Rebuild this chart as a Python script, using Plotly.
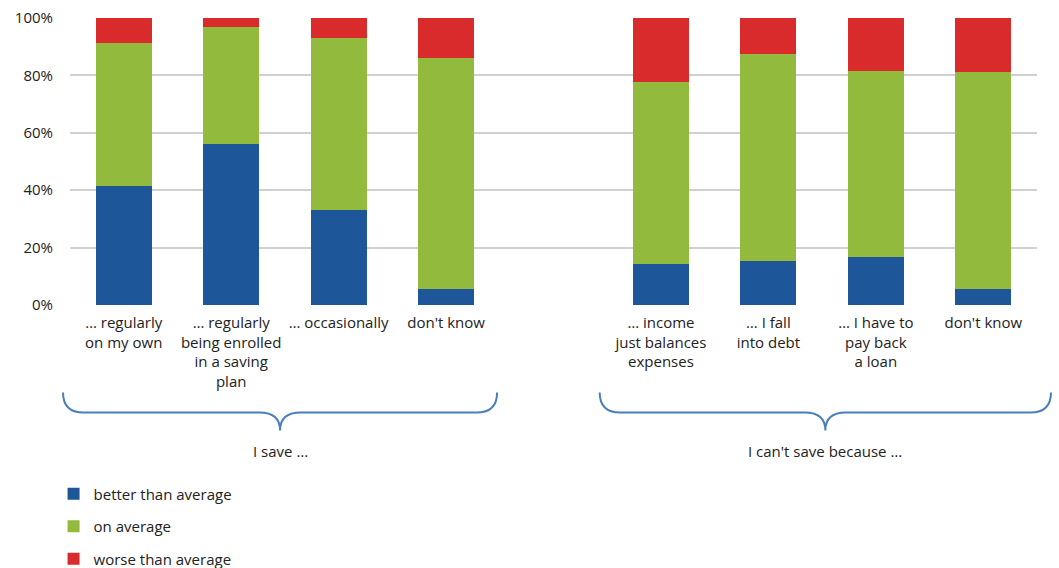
import plotly.graph_objects as go

# ---- data ----
positions = [0, 1, 2, 3, 5, 6, 7, 8]
categories = [
    "… regularly<br>on my own",
    "… regularly<br>being enrolled<br>in a saving<br>plan",
    "… occasionally",
    "don't know",
    "… income<br>just balances<br>expenses",
    "… I fall<br>into debt",
    "… I have to<br>pay back<br>a loan",
    "don't know",
]
better = [41.4, 56.1, 33.2, 5.6, 14.3, 15.4, 16.8, 5.6]
on_avg = [50.0, 40.9, 59.9, 80.3, 63.4, 71.9, 64.8, 75.7]
worse = [round(100 - b - o, 1) for b, o in zip(better, on_avg)]
series_names = ["better than average", "on average", "worse than average"]
series_colors = ["#1E5799", "#92BB3E", "#D92B2C"]
group_labels = ["I save …", "I can't save because …"]
group_spans = [(0, 3), (5, 8)]

FONT = "Open Sans"
FS = 15
fig = go.Figure()
for name, vals, col in zip(series_names, [better, on_avg, worse], series_colors):
    fig.add_trace(go.Bar(
        x=positions, y=vals, name=name, marker=dict(color=col, line=dict(width=0)),
        width=0.52, legendgroup=name,
    ))

# plot area in pixels
L, R, T, B = 70, 1037, 18, 304.7
H = B - T
XMIN, XMAX = -0.5, 8.5

def py(p):
    return (B - p) / H

def px(xd):
    return (xd - XMIN) / (XMAX - XMIN)

brace_pad = [(-0.565, 0.475), (-0.57, 0.63)]
shapes = []
annotations = []
for (a, b), lab, (pl, pr) in zip(group_spans, group_labels, brace_pad):
    x0, x1 = px(a + pl), px(b + pr)
    xm = (x0 + x1) / 2
    d = 0.19 / (XMAX - XMIN)
    ytop, ymid, ytip = py(392), py(412), py(430)
    path = (f"M {x0},{ytop} Q {x0},{ymid} {x0+d},{ymid} L {xm-d},{ymid} "
            f"Q {xm},{ymid} {xm},{ytip} Q {xm},{ymid} {xm+d},{ymid} "
            f"L {x1-d},{ymid} Q {x1},{ymid} {x1},{ytop}")
    shapes.append(dict(type="path", path=path, xref="paper", yref="paper",
                       line=dict(color="#4A7EBB", width=2)))
    annotations.append(dict(x=xm, y=py(451), xref="paper", yref="paper", text=lab,
                            showarrow=False, font=dict(family=FONT, size=FS, color="#222"),
                            xanchor="center", yanchor="middle"))

fig.update_layout(
    width=1059, height=568,
    margin=dict(l=L, r=1059 - R, t=T, b=568 - B, autoexpand=False),
    barmode="stack",
    plot_bgcolor="white", paper_bgcolor="white",
    font=dict(family=FONT, size=FS, color="#222"),
    xaxis=dict(range=[XMIN, XMAX], tickvals=positions, ticktext=categories,
               showgrid=False, zeroline=False, showline=False, ticks="",
               tickfont=dict(size=FS), ticklabelstandoff=7),
    yaxis=dict(range=[0, 100], tickvals=[0, 20, 40, 60, 80, 100],
               ticktext=["0%", "20%", "40%", "60%", "80%", "100%"],
               showgrid=True, gridcolor="#D0D0D0", gridwidth=1.5, zeroline=False,
               showline=False, ticklabelstandoff=16, tickfont=dict(size=FS)),
    legend=dict(orientation="v", x=-0.017, xanchor="left", y=py(477), yanchor="top",
                traceorder="grouped", tracegroupgap=10, font=dict(size=FS),
                bgcolor="rgba(0,0,0,0)"),
    bargap=0.48,
    shapes=shapes,
    annotations=annotations,
)

fig.write_html("out.html", config={"displayModeBar": False},
               post_script="document.body.style.margin='0';document.body.style.overflow='hidden';")
